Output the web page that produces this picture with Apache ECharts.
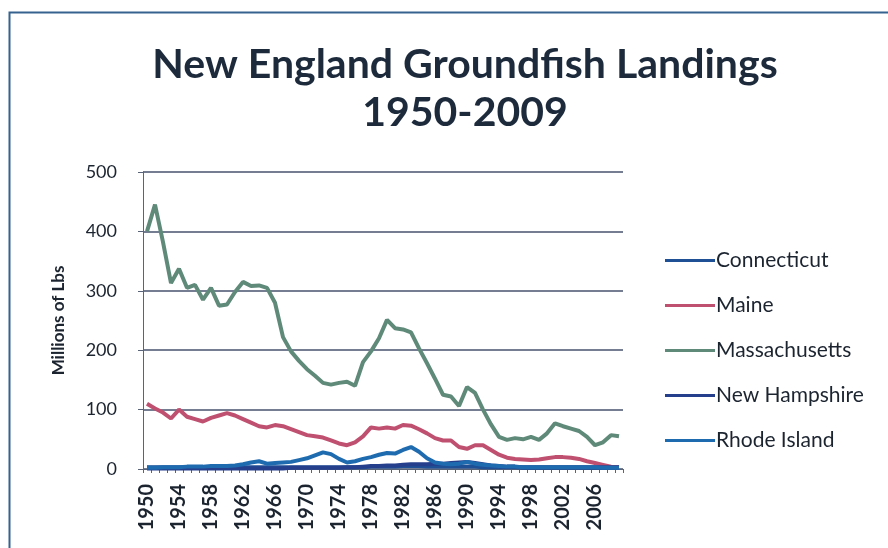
<!DOCTYPE html>
<html>
<head>
<meta charset="utf-8">
<script src="https://cdn.jsdelivr.net/npm/echarts@6/dist/echarts.min.js"></script>
<style>
  html, body { margin: 0; padding: 0; background: #ffffff; }
  #chart { width: 888px; height: 548px; }
</style>
</head>
<body>
<div id="chart"></div>
<script>
// Years 1950-2009
const years = [];
for (let y = 1950; y <= 2009; y++) years.push(String(y));

// Landings by state, millions of lbs
const connecticut = [3,3,3,3,3,3,3,3,3,3,3,3,3,3,3,3,3,3,3,3,3,3,3,3,3,3,3,3,4,4,4,4,5,5,5,4,4,4,4,4,4,4,3,3,3,3,3,2,2,2,2,2,2,2,2,2,2,2,2,2];
const maine = [110,102,95,85,100,88,84,80,86,90,94,90,84,78,72,70,74,72,67,62,57,55,53,48,43,40,45,55,70,68,70,68,74,73,67,60,52,48,48,37,34,40,40,32,24,19,17,16,15,16,18,20,20,19,17,13,10,7,4,3];
const massachusetts = [400,445,382,313,337,305,310,285,305,275,277,298,315,308,309,305,280,222,198,182,168,157,145,142,145,147,140,180,198,220,251,237,235,230,203,178,152,125,122,106,138,128,100,75,54,49,52,50,54,49,60,77,72,68,64,54,40,45,57,55];
const newHampshire = [1,1,1,1,1,1,1,1,1,1,1,1,1,1,1,1,1,1,2,2,2,2,2,2,2,3,3,4,5,5,6,6,7,8,8,8,9,9,10,11,12,10,8,6,5,4,4,3,3,3,3,3,3,3,3,3,3,3,3,3];
const rhodeIsland = [2,2,3,3,3,4,4,4,5,5,5,6,8,11,13,9,10,11,12,15,18,23,28,25,17,11,13,17,20,24,27,26,32,37,29,18,11,9,8,9,12,9,7,6,5,4,4,3,3,3,3,3,3,3,3,3,3,2,2,2];

const yTicks = [0, 100, 200, 300, 400, 500];

const stateNames = ['Connecticut', 'Maine', 'Massachusetts', 'New Hampshire', 'Rhode Island'];
const stateColors = ['#1f4f95', '#c0506f', '#5f8a7a', '#263f8c', '#1f6bb0'];
const stateData = [connecticut, maine, massachusetts, newHampshire, rhodeIsland];

const chart = echarts.init(document.getElementById('chart'), null, { renderer: 'canvas' });

const font = 'Lato, "Open Sans", sans-serif';
const ink = '#1c2430';

chart.setOption({
  backgroundColor: '#ffffff',
  animation: false,
  graphic: [{
    type: 'rect',
    left: 7, top: 10,
    shape: { width: 900, height: 560 },
    style: { fill: 'none', stroke: '#36628f', lineWidth: 2 },
    z: -1
  }],
  title: {
    text: 'New England Groundfish Landings\n1950-2009',
    left: 460,
    top: 36,
    textAlign: 'center',
    textStyle: {
      fontFamily: font,
      fontWeight: 'bold',
      fontSize: 41,
      lineHeight: 48,
      color: '#1c2a3c'
    }
  },
  legend: {
    orient: 'vertical',
    left: 660,
    top: 245,
    itemWidth: 50,
    itemHeight: 3,
    itemGap: 24,
    icon: 'rect',
    textStyle: { fontFamily: font, fontSize: 21, color: ink, padding: [0, 0, 0, -4] },
    data: stateNames
  },
  grid: { left: 143, right: 265, top: 172, bottom: 79 },
  xAxis: {
    type: 'category',
    data: years,
    boundaryGap: true,
    axisLine: { lineStyle: { color: '#5a6478', width: 1 } },
    axisTick: { show: true, interval: 0, length: 4, lineStyle: { color: '#5a6478' } },
    axisLabel: {
      interval: 3,
      rotate: 90,
      fontFamily: font,
      fontWeight: 'bold',
      fontSize: 20,
      color: ink,
      margin: 15
    }
  },
  yAxis: {
    type: 'value',
    min: yTicks[0],
    max: yTicks[yTicks.length - 1],
    interval: 100,
    name: 'Millions of Lbs',
    nameLocation: 'middle',
    nameGap: 76,
    nameTextStyle: { fontFamily: font, fontWeight: 'bold', fontSize: 17, color: ink },
    axisLine: { show: true, lineStyle: { color: '#5a6478' } },
    axisTick: { show: true, length: 5, lineStyle: { color: '#5a6478' } },
    axisLabel: { fontFamily: font, fontSize: 18, color: ink, margin: 26 },
    splitLine: { lineStyle: { color: '#46526e', width: 1.5 } }
  },
  series: stateNames.map((name, i) => ({
    name: name,
    type: 'line',
    data: stateData[i],
    symbol: 'none',
    lineStyle: { width: 4, color: stateColors[i] },
    itemStyle: { color: stateColors[i] },
    z: name === 'Massachusetts' ? 3 : 2
  }))
});
</script>
</body>
</html>
